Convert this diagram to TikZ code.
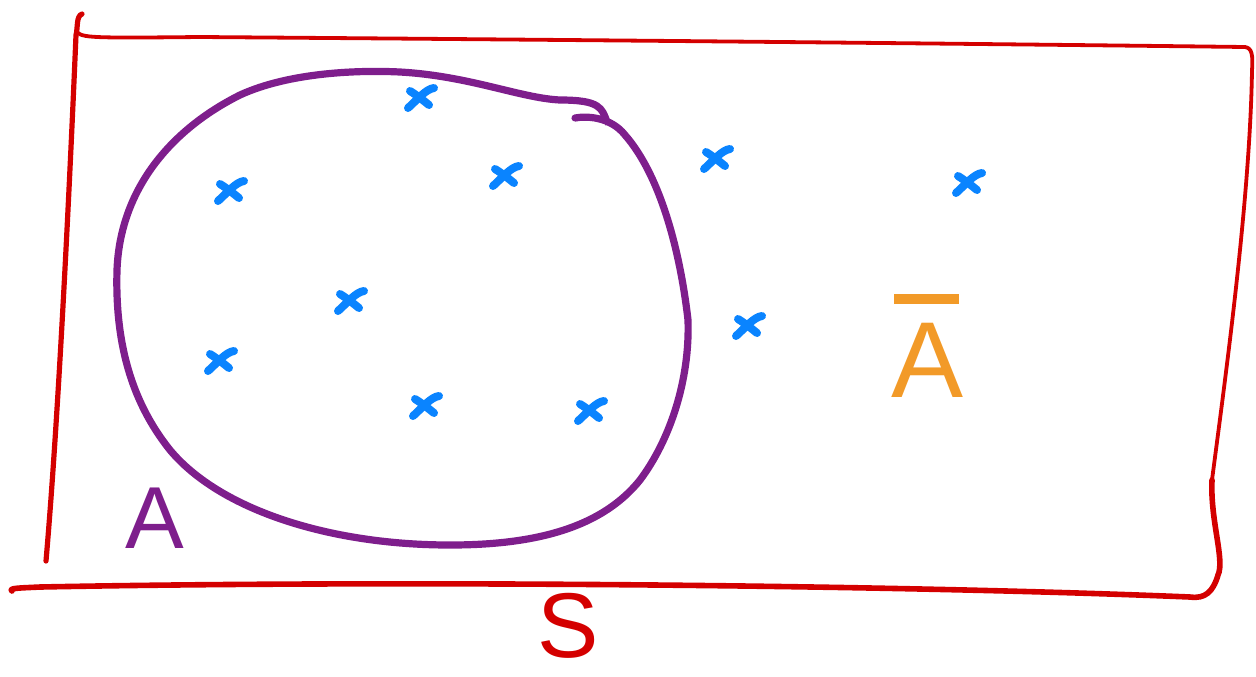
\documentclass[tikz,border=0pt]{standalone}
\usepackage{fontspec}
\setmainfont{Liberation Sans}
\definecolor{redline}{HTML}{D40000}
\definecolor{purp}{HTML}{7E1E8C}
\definecolor{bluex}{HTML}{0A84FF}
\definecolor{orng}{HTML}{F29A28}
\tikzset{
  redpen/.style={draw=redline, line width=1.9pt, line cap=round, line join=round},
  purppen/.style={draw=purp, line width=3.6pt, line cap=round, line join=round},
  pics/xmark/.style={code={
    \draw[draw=bluex, line width=4pt, line cap=round]
      (-12,11) .. controls (-2,2) and (6,-8) .. (14,-9);
    \draw[draw=bluex, line width=4pt, line cap=round]
      (-10,-6) .. controls (-2,-1) and (4,4) .. (9,8);
  }},
  lbl/.style={inner sep=0pt, anchor=base}
}
\begin{document}
\begin{tikzpicture}[x=0.5pt,y=-0.5pt]
\useasboundingbox (0,0) rectangle (1256,676);
% red sample space
\draw[redpen, line width=2.6pt] (82,14) .. controls (76,16) and (78,28) .. (76,35)
  .. controls (72,130) and (60,400) .. (46,561);
\draw[redpen] (78,33) .. controls (84,38) and (100,38) .. (200,37)
  .. controls (600,40) and (1000,44) .. (1245,47)
  .. controls (1252,48) and (1253,55) .. (1252,70)
  .. controls (1250,200) and (1225,380) .. (1212,480);
\draw[redpen, line width=2.8pt] (1212,480) .. controls (1210,520) and (1225,560) .. (1218,575)
  .. controls (1213,592) and (1205,599) .. (1190,597)
  .. controls (900,585) and (400,580) .. (40,587)
  .. controls (20,588) and (8,588) .. (12,591);
% purple set A
\draw[purppen] (575,118) .. controls (585,116) and (610,116) .. (625,135)
  .. controls (660,175) and (680,250) .. (688,320)
  .. controls (690,380) and (670,440) .. (640,480)
  .. controls (600,530) and (530,545) .. (450,545)
  .. controls (330,545) and (220,510) .. (170,450)
  .. controls (130,400) and (115,340) .. (117,270)
  .. controls (120,190) and (170,130) .. (240,95)
  .. controls (290,72) and (360,70) .. (400,72)
  .. controls (470,76) and (520,98) .. (560,100)
  .. controls (600,100) and (602,108) .. (607,122);
% points
\coordinate (x1) at (420,97);
\coordinate (x2) at (230,190);
\coordinate (x3) at (505,175);
\coordinate (x4) at (350,300);
\coordinate (x5) at (220,360);
\coordinate (x6) at (425,405);
\coordinate (x7) at (590,410);
\coordinate (x8) at (716,158);
\coordinate (x9) at (968,182);
\coordinate (x10) at (748,325);
\foreach \n in {1,...,10} \pic at (x\n) {xmark};
% labels
\node[lbl, text=purp, font=\fontsize{44}{44}\selectfont] (labA) at (155,548) {A};
\node[lbl, text=orng, font=\fontsize{54}{54}\selectfont] (labAbar) at (928,397)
  {\rlap{\kern0.02em\raisebox{0.86em}{\rule{0.6em}{0.09em}}}A};
\node[lbl, text=redline, font=\fontsize{46}{46}\selectfont] (labS) at (568,657) {S};
\end{tikzpicture}
\end{document}
